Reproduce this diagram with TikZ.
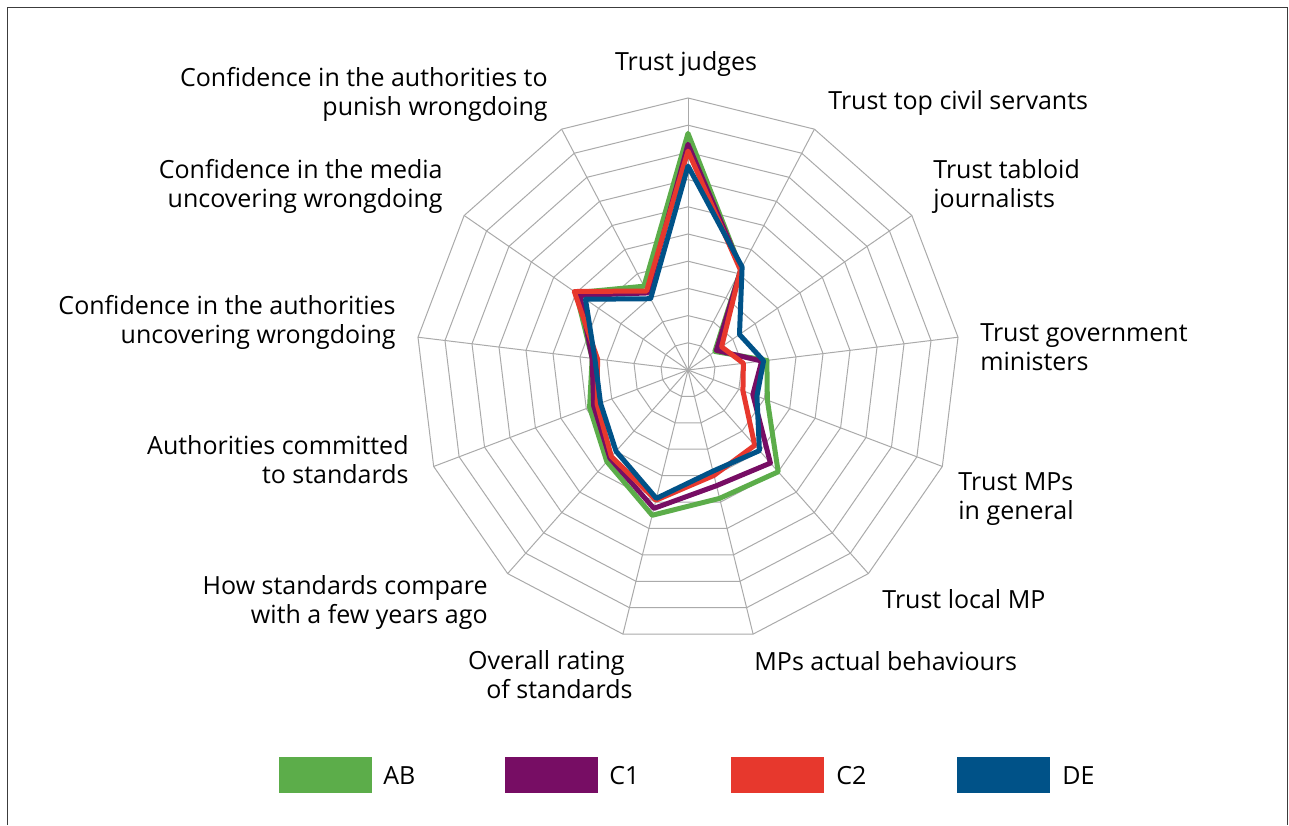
\documentclass[tikz,border=0pt]{standalone}
\usepackage{fontspec}
\setmainfont{Open Sans}
\definecolor{cAB}{RGB}{92,173,74}
\definecolor{cCone}{RGB}{119,13,100}
\definecolor{cCtwo}{RGB}{231,56,45}
\definecolor{cDE}{RGB}{0,82,136}
\definecolor{gridc}{RGB}{170,170,170}
\definecolor{framec}{RGB}{60,60,60}
\def\dAB{{8.7,4.2,1.2,2.92,3.12,5.0,4.86,5.5,4.5,3.87,3.55,5.0,3.48}}
\def\dCone{{8.3,4.2,1.27,2.73,2.55,4.57,4.38,5.24,4.33,3.71,3.55,4.83,3.2}}
\def\dCtwo{{8.05,4.15,1.5,2.05,2.16,3.7,3.99,4.93,4.25,3.57,3.35,5.08,3.28}}
\def\dDE{{7.5,4.28,2.3,2.8,2.71,3.96,3.83,4.86,3.99,3.44,3.45,4.58,2.96}}
\begin{document}
\begin{tikzpicture}[x=0.5pt,y=-0.5pt,
  grid/.style={draw=gridc,line width=0.5pt},
  series/.style={line width=2.5pt,line join=round},
  lab/.style={inner sep=0pt,font=\fontsize{12.5}{14.6}\selectfont},
  key/.style={inner sep=0pt,minimum width=46.5pt,minimum height=18pt}]
\useasboundingbox (0,0) rectangle (1289,825);
\fill[white] (0,0) rectangle (1289,825);
\coordinate (C) at (688,370);
% grid rings
\foreach \r in {1,...,10}
  \draw[grid] plot[samples at={0,...,12}] ({688+27.2*\r*sin(\x*360/13)},{370-27.2*\r*cos(\x*360/13)}) -- cycle;
% spokes
\foreach \k in {0,...,12}
  \draw[grid] (C) -- ({688+272*sin(\k*360/13)},{370-272*cos(\k*360/13)});
% series
\draw[series,cAB] plot[samples at={0,...,12}] ({688+27.2*\dAB[\x]*sin(\x*360/13)},{370-27.2*\dAB[\x]*cos(\x*360/13)}) -- cycle;
\draw[series,cCone] plot[samples at={0,...,12}] ({688+27.2*\dCone[\x]*sin(\x*360/13)},{370-27.2*\dCone[\x]*cos(\x*360/13)}) -- cycle;
\draw[series,cCtwo] plot[samples at={0,...,12}] ({688+27.2*\dCtwo[\x]*sin(\x*360/13)},{370-27.2*\dCtwo[\x]*cos(\x*360/13)}) -- cycle;
\draw[series,cDE] plot[samples at={0,...,12}] ({688+27.2*\dDE[\x]*sin(\x*360/13)},{370-27.2*\dDE[\x]*cos(\x*360/13)}) -- cycle;
% frame
\draw[framec,line width=0.75pt] (7.5,825) -- (7.5,7.5) -- (1287.5,7.5) -- (1287.5,825);
% axis labels
\node[lab,anchor=north] (l0) at (686,51) {Trust judges};
\node[lab,anchor=north west,align=left] (l1) at (828,90) {Trust top civil servants};
\node[lab,anchor=north west,align=left] (l2) at (933,159) {Trust tabloid\\journalists};
\node[lab,anchor=north west,align=left] (l3) at (980,323) {Trust government\\ministers};
\node[lab,anchor=north west,align=left] (l4) at (958,472) {Trust MPs\\in general};
\node[lab,anchor=north west] (l5) at (882,589) {Trust local MP};
\node[lab,anchor=north west] (l6) at (754,651) {MPs actual behaviours};
\node[lab,anchor=north east,align=right] (l7) at (633,650) {Overall rating\hspace*{4pt}\\of standards};
\node[lab,anchor=north east,align=right] (l8) at (488,575) {How standards compare\\with a few years ago};
\node[lab,anchor=north east,align=right] (l9) at (409,435) {Authorities committed\\to standards};
\node[lab,anchor=north east,align=right] (l10) at (396,295) {Confidence in the authorities\\uncovering wrongdoing};
\node[lab,anchor=north east,align=right] (l11) at (443,159) {Confidence in the media\\uncovering wrongdoing};
\node[lab,anchor=north east,align=right] (l12) at (548,67) {Confidence in the authorities to\\punish wrongdoing};
% legend
\node[key,fill=cAB,anchor=north west] (kAB) at (279,757) {};
\node[lab,anchor=west] (tAB) at (383,776) {AB};
\node[key,fill=cCone,anchor=north west] (kC1) at (505,757) {};
\node[lab,anchor=west] (tC1) at (609,776) {C1};
\node[key,fill=cCtwo,anchor=north west] (kC2) at (731,757) {};
\node[lab,anchor=west] (tC2) at (836,776) {C2};
\node[key,fill=cDE,anchor=north west] (kDE) at (957,757) {};
\node[lab,anchor=west] (tDE) at (1062,776) {DE};
\end{tikzpicture}
\end{document}
